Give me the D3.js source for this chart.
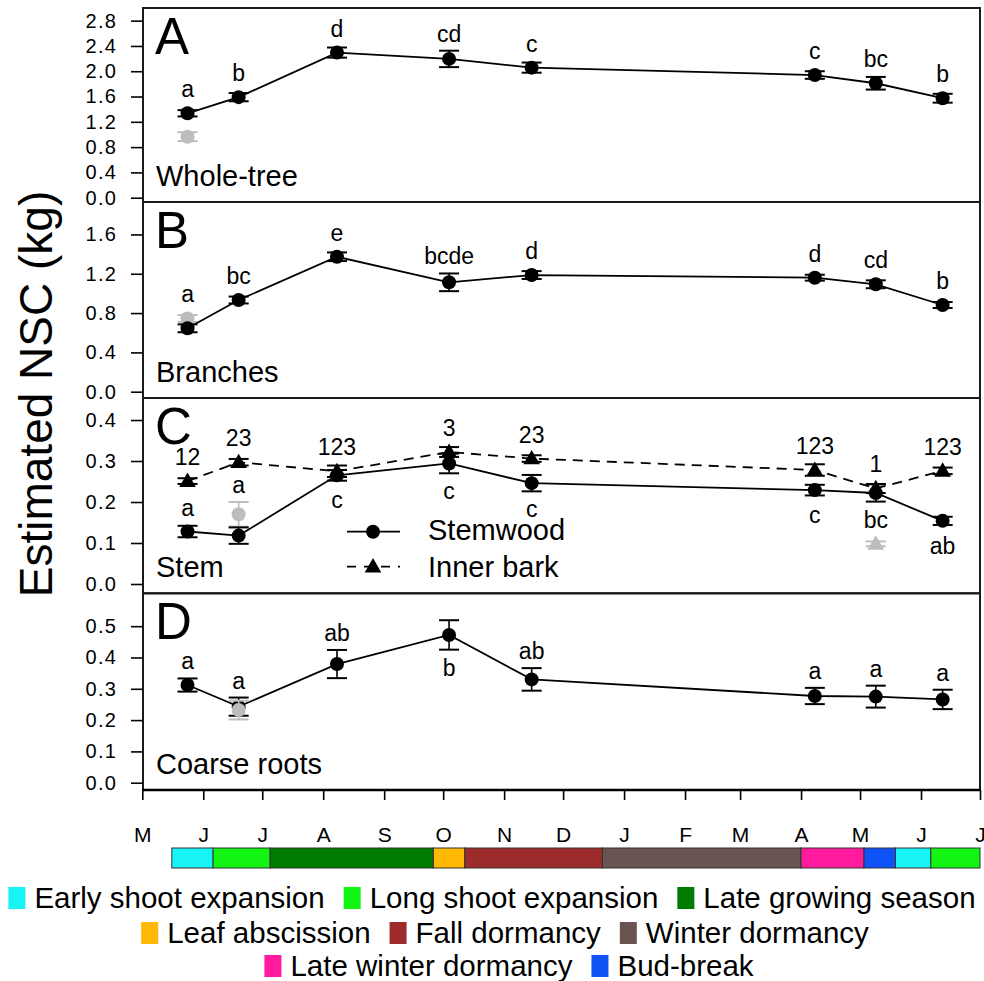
<!DOCTYPE html>
<html><head><meta charset="utf-8">
<script src="https://cdn.jsdelivr.net/npm/d3@7"></script>
<style>
body{margin:0;background:#fff}
svg{display:block}
text{font-family:"Liberation Sans",Arial,Helvetica,sans-serif;fill:#000}
</style>
</head><body>
<svg id="chart" width="984" height="981"></svg>
<script>
// ---------------- DATA ----------------
const sampleDates = ["2012-05-24","2012-06-19","2012-08-08","2012-10-04","2012-11-15","2013-04-08","2013-05-09","2013-06-12"];

const wholeTree        = [1.335, 1.59, 2.295, 2.195, 2.057, 1.94, 1.81, 1.573];
const wholeTreeSE      = [0.05, 0.065, 0.08, 0.13, 0.08, 0.06, 0.10, 0.07];
const wholeTreeLetters = ["a","b","d","cd","c","c","bc","b"];

const branches        = [0.645, 0.933, 1.373, 1.113, 1.187, 1.16, 1.093, 0.882];
const branchesSE      = [0.04, 0.035, 0.044, 0.09, 0.04, 0.03, 0.04, 0.03];
const branchesLetters = ["a","bc","e","bcde","d","d","cd","b"];

const stemwood         = [0.128, 0.118, 0.265, 0.294, 0.246, 0.229, 0.222, 0.154];
const stemwoodSE       = [0.014, 0.02, 0.013, 0.024, 0.02, 0.013, 0.021, 0.01];
const stemwoodLetters  = ["a","a","c","c","c","c","bc","ab"];
const stemwoodLetterSide = ["above","above","below","below","below","below","below","below"];

const innerBark        = [0.251, 0.297, 0.275, 0.322, 0.306, 0.278, 0.233, 0.276];
const innerBarkSE      = [0.007, 0.008, 0.014, 0.012, 0.008, 0.014, 0.011, 0.008];
const innerBarkLetters = ["12","23","123","3","23","123","1","123"];

const coarseRoots        = [0.312, 0.243, 0.379, 0.472, 0.330, 0.277, 0.275, 0.266];
const coarseRootsSE      = [0.021, 0.029, 0.045, 0.047, 0.036, 0.026, 0.035, 0.031];
const coarseRootsLetters = ["a","a","ab","b","ab","a","a","a"];
const coarseRootsLetterSide = ["above","above","above","below","above","above","above","above"];

// grey points (reference measurements)
const greySeries = ["wholeTree","branches","stemwood","innerBark","coarseRoots"];
const greyDates  = ["2012-05-24","2012-05-24","2012-06-19","2013-05-09","2012-06-19"];
const greyValues = [0.965, 0.745, 0.17, 0.098, 0.232];
const greySE     = [0.07, 0.035, 0.03, 0.006, 0.03];

const yTicksA = [0,0.4,0.8,1.2,1.6,2.0,2.4,2.8];
const yTicksB = [0,0.4,0.8,1.2,1.6];
const yTicksC = [0,0.1,0.2,0.3,0.4];
const yTicksD = [0,0.1,0.2,0.3,0.4,0.5];

const monthLabels = ["M","J","J","A","S","O","N","D","J","F","M","A","M","J","J"];

const phaseNames  = ["Early shoot expansion","Long shoot expansion","Late growing season","Leaf abscission","Fall dormancy","Winter dormancy","Late winter dormancy","Bud-break"];
const phaseColors = ["#18f3f6","#13f513","#007d00","#ffb803","#9e2b2b","#6b5352","#ff1a9e","#0f52f5"];
const segStart = ["2012-05-16","2012-06-06","2012-07-05","2012-09-26","2012-10-12","2012-12-21","2013-04-01","2013-05-03","2013-05-19","2013-06-06"];
const segEnd   = ["2012-06-06","2012-07-05","2012-09-26","2012-10-12","2012-12-21","2013-04-01","2013-05-03","2013-05-19","2013-06-06","2013-07-01"];
const segPhase = [0,1,2,3,4,5,6,7,0,1];
const legendRows = [[0,1,2],[3,4,5],[6,7]];

// ---------------- DRAW ----------------
const svg = d3.select("#chart");
const parse = d3.utcParse("%Y-%m-%d");
const L = 143, R = 980;
const x = d3.scaleUtc().domain([parse("2012-05-01"), parse("2013-07-01")]).range([142.3, 980]);
const dates = sampleDates.map(parse);

const seriesDefs = {
  wholeTree:   {values: wholeTree, se: wholeTreeSE, letters: wholeTreeLetters, side: null, shape: "circle", dash: null},
  branches:    {values: branches, se: branchesSE, letters: branchesLetters, side: null, shape: "circle", dash: null},
  stemwood:    {values: stemwood, se: stemwoodSE, letters: stemwoodLetters, side: stemwoodLetterSide, shape: "circle", dash: null},
  innerBark:   {values: innerBark, se: innerBarkSE, letters: innerBarkLetters, side: null, shape: "triangle", dash: "10,7"},
  coarseRoots: {values: coarseRoots, se: coarseRootsSE, letters: coarseRootsLetters, side: coarseRootsLetterSide, shape: "circle", dash: null}
};

const panels = [
  {letter: "A", name: "Whole-tree", top: 8, bottom: 202, domain: [-0.068, 3.0], ticks: yTicksA, series: ["wholeTree"], greyTop: false},
  {letter: "B", name: "Branches", top: 202, bottom: 398, domain: [-0.064, 1.93], ticks: yTicksB, series: ["branches"], greyTop: false},
  {letter: "C", name: "Stem", top: 398, bottom: 593.3, domain: [-0.0227, 0.4537], ticks: yTicksC, series: ["innerBark","stemwood"], greyTop: false},
  {letter: "D", name: "Coarse roots", top: 593.3, bottom: 790, domain: [-0.0233, 0.605], ticks: yTicksD, series: ["coarseRoots"], greyTop: true}
];

const triSym = d3.symbol().type(d3.symbolTriangle).size(120);
const CAP = 10, RAD = 7;

function drawMarker(g, shape, cx, cy, color) {
  if (shape === "circle") {
    g.append("circle").attr("cx", cx).attr("cy", cy).attr("r", RAD).attr("fill", color);
  } else {
    g.append("path").attr("d", triSym()).attr("transform", `translate(${cx},${cy+1})`).attr("fill", color);
  }
}
function drawErr(g, cx, y, v, e, color) {
  const y1 = y(v + e), y2 = y(v - e);
  g.append("line").attr("x1", cx).attr("x2", cx).attr("y1", y1).attr("y2", y2).attr("stroke", color).attr("stroke-width", 1.6);
  [y1, y2].forEach(yy => g.append("line").attr("x1", cx - CAP).attr("x2", cx + CAP).attr("y1", yy).attr("y2", yy).attr("stroke", color).attr("stroke-width", 2));
}

panels.forEach(p => {
  const y = d3.scaleLinear().domain(p.domain).range([p.bottom, p.top]);
  const g = svg.append("g");

  // frame
  g.append("rect").attr("x", L).attr("y", p.top).attr("width", R - L).attr("height", p.bottom - p.top)
    .attr("fill", "none").attr("stroke", "#1a1a1a").attr("stroke-width", 2);

  // y axis
  const ax = g.append("g").attr("transform", `translate(${L},0)`)
    .call(d3.axisLeft(y).tickValues(p.ticks).tickSize(12).tickPadding(14).tickFormat(d3.format(".1f")));
  ax.select(".domain").remove();
  ax.selectAll(".tick line").attr("stroke", "#000").attr("stroke-width", 1.6);
  ax.selectAll(".tick text").attr("font-size", 20).attr("letter-spacing", 1.2).attr("fill", "#111")
    .style("font-family", '"Liberation Sans",Arial,sans-serif');

  // panel letter and name
  g.append("text").attr("x", 155).attr("y", p.top + 46).attr("font-size", 51).text(p.letter);
  g.append("text").attr("x", 156).attr("y", p.bottom - 16).attr("font-size", 29).text(p.name);

  const greyIdx = greySeries.map((s, i) => i).filter(i => p.series.includes(greySeries[i]));
  const grey = greyIdx.map(i => ({s: greySeries[i], d: parse(greyDates[i]), v: greyValues[i], e: greySE[i]}));

  function drawGrey() {
    grey.forEach(gp => {
      const cx = x(gp.d);
      drawErr(g, cx, y, gp.v, gp.e, "#bdbdbd");
      drawMarker(g, seriesDefs[gp.s].shape, cx, y(gp.v), "#bdbdbd");
    });
  }
  if (!p.greyTop) drawGrey();

  p.series.forEach(sn => {
    const s = seriesDefs[sn];
    const pts = dates.map((d, i) => ({d, v: s.values[i], e: s.se[i]}));
    const line = d3.line().x(d => x(d.d)).y(d => y(d.v));
    g.append("path").datum(pts).attr("d", line).attr("fill", "none").attr("stroke", "#000")
      .attr("stroke-width", 1.8).attr("stroke-dasharray", s.dash);
  });
  p.series.forEach(sn => {
    const s = seriesDefs[sn];
    dates.forEach((d, i) => {
      const cx = x(d);
      drawErr(g, cx, y, s.values[i], s.se[i], "#000");
      drawMarker(g, s.shape, cx, y(s.values[i]), "#000");
    });
  });
  if (p.greyTop) drawGrey();

  // letters
  p.series.forEach(sn => {
    const s = seriesDefs[sn];
    dates.forEach((d, i) => {
      const side = s.side ? s.side[i] : "above";
      const cands = [{v: s.values[i], e: s.se[i]}];
      grey.filter(gp => gp.s === sn && +gp.d === +d).forEach(gp => cands.push(gp));
      let ty;
      if (side === "above") {
        const topY = d3.min(cands, c => Math.min(y(c.v + c.e), y(c.v) - RAD));
        ty = topY - 9;
      } else {
        const botY = d3.max(cands, c => Math.max(y(c.v - c.e), y(c.v) + RAD));
        ty = botY + 26;
      }
      g.append("text").attr("x", x(d)).attr("y", ty).attr("text-anchor", "middle")
        .attr("font-size", 23).text(s.letters[i]);
    });
  });
});

// legend inside panel C
const lg = svg.append("g");
[["Stemwood", "circle", null, 531.7, 540], ["Inner bark", "triangle", "10,7", 566.7, 577]].forEach(([label, shape, dash, ly, tb]) => {
  lg.append("line").attr("x1", 347).attr("x2", 400).attr("y1", ly).attr("y2", ly)
    .attr("stroke", "#000").attr("stroke-width", 1.8).attr("stroke-dasharray", dash ? "9,8" : null);
  drawMarker(lg, shape, 373, ly, "#000");
  lg.append("text").attr("x", 428).attr("y", tb).attr("font-size", 29).text(label);
});

// x axis
const monthTicks = d3.utcMonth.range(parse("2012-05-01"), parse("2013-07-02"));
svg.append("line").attr("x1", L - 1).attr("x2", R + 1).attr("y1", 790).attr("y2", 790).attr("stroke", "#000").attr("stroke-width", 2.4);
const xa = svg.append("g").attr("transform", "translate(0,790)")
  .call(d3.axisBottom(x).tickValues(monthTicks).tickSize(10).tickPadding(27).tickFormat((d, i) => monthLabels[i]));
xa.select(".domain").remove();
xa.selectAll(".tick line").attr("stroke", "#000").attr("stroke-width", 1.6);
xa.selectAll(".tick text").attr("font-size", 21).attr("fill", "#111")
  .style("font-family", '"Liberation Sans",Arial,sans-serif');

// phase bar
const bar = svg.append("g");
segStart.forEach((s, i) => {
  const x0 = x(parse(s)), x1 = x(parse(segEnd[i]));
  bar.append("rect").attr("x", x0).attr("y", 848).attr("width", x1 - x0).attr("height", 20)
    .attr("fill", phaseColors[segPhase[i]]).attr("stroke", "#333").attr("stroke-width", 1);
});

// bottom legend
const rowBase = [908, 943, 976];
const rowCenter = [492, 505, 509];
legendRows.forEach((row, ri) => {
  const rg = svg.append("g");
  let cx = 0;
  row.forEach((pi, k) => {
    rg.append("rect").attr("x", cx).attr("y", rowBase[ri] - 21).attr("width", 17).attr("height", 22).attr("fill", phaseColors[pi]);
    const t = rg.append("text").attr("x", cx + 26).attr("y", rowBase[ri]).attr("font-size", 29.5).text(phaseNames[pi]);
    cx += 26 + t.node().getComputedTextLength() + 19;
  });
  const w = cx - 19;
  rg.attr("transform", `translate(${rowCenter[ri] - w / 2},0)`);
});

// y label
svg.append("text").attr("transform", "translate(52,394) rotate(-90)").attr("text-anchor", "middle")
  .attr("font-size", 46).text("Estimated NSC (kg)");
</script>
</body></html>
